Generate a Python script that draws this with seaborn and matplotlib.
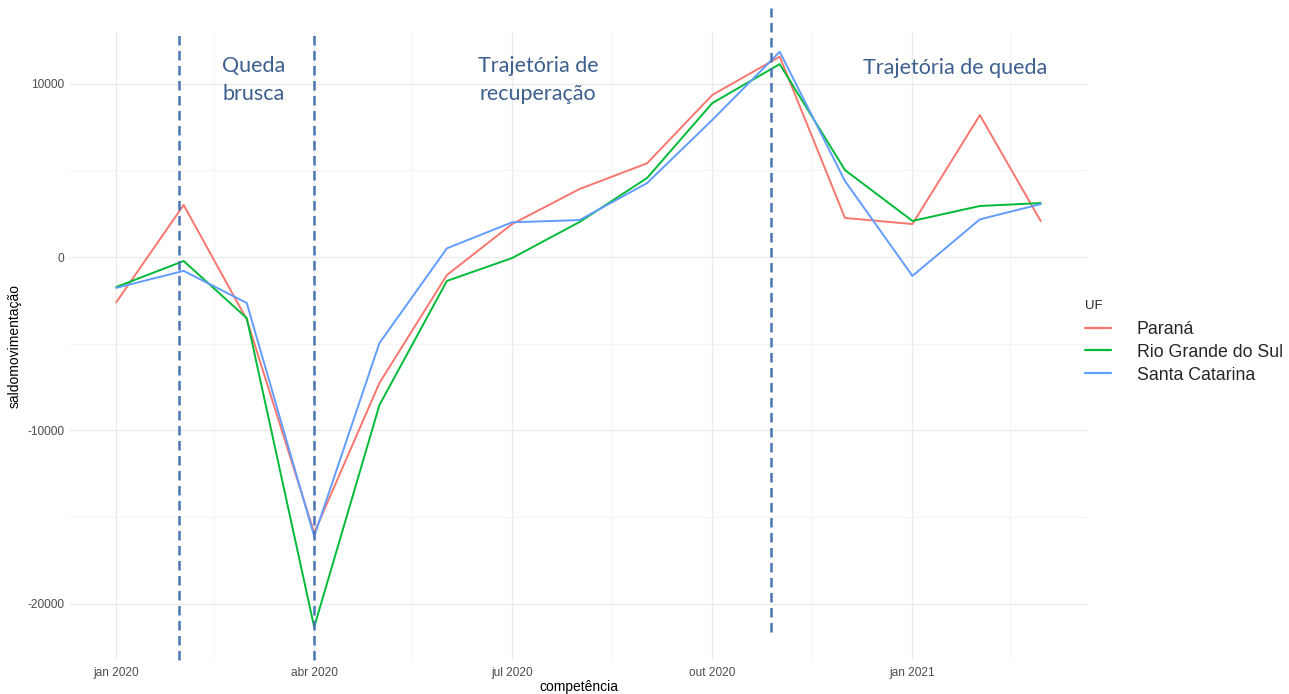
import pandas as pd
import numpy as np
import matplotlib
matplotlib.use("Agg")
import matplotlib.pyplot as plt
import matplotlib.dates as mdates
import seaborn as sns

# monthly data (competência), jan 2020 .. mar 2021
meses = pd.date_range("2020-01-01", "2021-03-01", freq="MS")
parana = [-2610, 3000, -3600, -15900, -7260, -1040, 1900, 3920, 5400, 9340,
          11550, 2250, 1900, 8180, 2070]
rio_grande_do_sul = [-1730, -230, -3520, -21330, -8530, -1380, -60, 2020, 4550,
                     8870, 11120, 5010, 2080, 2940, 3110]
santa_catarina = [-1780, -800, -2650, -16100, -4960, 500, 2000, 2130, 4260,
                  7900, 11830, 4380, -1090, 2170, 3050]
ufs = ["Paraná", "Rio Grande do Sul", "Santa Catarina"]
cores = ["#F8766D", "#00BA38", "#619CFF"]

tick_datas = ["2020-01-01", "2020-04-01", "2020-07-01", "2020-10-01", "2021-01-01"]
tick_labels = ["jan 2020", "abr 2020", "jul 2020", "out 2020", "jan 2021"]
minor_datas = ["2020-02-15", "2020-05-16", "2020-08-16", "2020-11-16", "2021-02-15"]
y_ticks = [-20000, -10000, 0, 10000]
y_minor = [-15000, -5000, 5000]

# annotation (hand drawn period markers)
marcos = ["2020-01-30", "2020-04-01", "2020-10-28"]
fases = ["Queda\nbrusca", "Trajetória de\nrecuperação", "Trajetória de queda"]

df = pd.DataFrame({
    "competência": np.tile(meses, 3),
    "saldomovimentação": parana + rio_grande_do_sul + santa_catarina,
    "UF": np.repeat(ufs, len(meses)),
})

sns.set_theme(style="white")
plt.rcParams["font.family"] = ["Liberation Sans", "DejaVu Sans"]

fig = plt.figure(figsize=(12.89, 6.94), dpi=100)
ax = fig.add_axes([70 / 1289, 1 - 660 / 694, (1087 - 70) / 1289, 628 / 694])

sns.lineplot(data=df, x="competência", y="saldomovimentação", hue="UF",
             palette=dict(zip(ufs, cores)), linewidth=1.4, ax=ax, zorder=3)

x0 = mdates.date2num(meses[0]) - 21.25
x1 = mdates.date2num(meses[-1]) + 21.25
ax.set_xlim(x0, x1)
ax.set_ylim(-23230, 12970)

ax.set_xticks(mdates.date2num(pd.to_datetime(tick_datas)))
ax.set_xticklabels(tick_labels)
ax.set_xticks(mdates.date2num(pd.to_datetime(minor_datas)), minor=True)
ax.set_yticks(y_ticks)
ax.set_yticklabels([str(v) for v in y_ticks])
ax.set_yticks(y_minor, minor=True)

ax.grid(which="major", color="#EBEBEB", linewidth=1.0, zorder=0)
ax.grid(which="minor", color="#F2F2F2", linewidth=0.6, zorder=0)
for s in ax.spines.values():
    s.set_visible(False)
ax.tick_params(axis="both", which="both", length=0, labelsize=8.6,
               labelcolor="#4D4D4D")
ax.tick_params(axis="x", pad=5)
ax.tick_params(axis="y", pad=4)
ax.set_xlabel("competência", fontsize=10, color="black", labelpad=1)
ax.set_ylabel("saldomovimentação", fontsize=10, color="black", labelpad=4)

# period markers
limites = [(0, 1), (0, 1), (0.0446, 1.038)]
for d, (a, b) in zip(marcos, limites):
    ax.axvline(mdates.date2num(pd.Timestamp(d)), ymin=a, ymax=b, color="#4A76B5",
               linewidth=1.8, linestyle=(0, (3.8, 2.2)), clip_on=False, zorder=4)

txt_pos = [(254, 80), (538, 80), (955, 67.5)]
for t, (px, py) in zip(fases, txt_pos):
    fig.text(px / 1289, 1 - py / 694, t, ha="center", va="center",
             fontsize=15.5, color="#3D5F8F", family=["Lato", "DejaVu Sans"],
             linespacing=1.55)

leg = ax.legend(title="UF", loc="center left", bbox_to_anchor=(1085 / 1289, 1 - 342 / 694),
                bbox_transform=fig.transFigure, frameon=False, fontsize=12.8,
                title_fontsize=9.5, handlelength=1.45, handletextpad=1.45,
                labelspacing=0.33, borderaxespad=0, borderpad=0)
leg._legend_box.align = "left"
leg._legend_box.sep = 6
for line in leg.get_lines():
    line.set_linewidth(1.6)

fig.savefig("out.png", dpi=100)
